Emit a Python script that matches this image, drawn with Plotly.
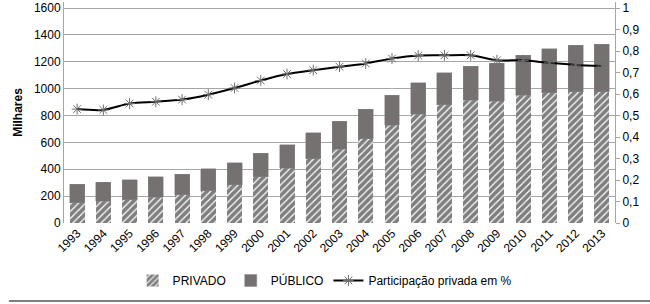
import plotly.graph_objects as go

years = [str(y) for y in range(1993, 2014)]
total = [290, 302, 321, 343, 363, 404, 450, 521, 584, 670, 758, 847, 952, 1044, 1118, 1166, 1190, 1247, 1296, 1324, 1329]
privado = [152, 161, 174, 192, 210, 241, 284, 346, 408, 478, 548, 628, 729, 810, 879, 915, 905, 952, 971, 977, 977]
publico = [t - p for t, p in zip(total, privado)]
participacao = [0.530, 0.526, 0.556, 0.564, 0.574, 0.597, 0.628, 0.663, 0.693, 0.711, 0.727, 0.742, 0.765, 0.779, 0.780, 0.780, 0.757, 0.757, 0.745, 0.735, 0.730]

FONT = "Liberation Sans"
fig = go.Figure()
fig.add_trace(go.Bar(
    x=years, y=privado, name="PRIVADO",
    marker=dict(color="white", line=dict(width=0),
                pattern=dict(shape="/", fgcolor="black", bgcolor="white", size=5, solidity=0.75)),
))
fig.add_trace(go.Bar(
    x=years, y=publico, name="PÚBLICO",
    marker=dict(color="#767171", line=dict(color="#8a8686", width=0.5)),
))
fig.add_trace(go.Scatter(
    x=years, y=participacao, name="Participação privada em %", yaxis="y2",
    mode="lines+markers",
    line=dict(color="black", width=2, shape="spline", smoothing=0.8),
    marker=dict(symbol="asterisk-open", size=9, color="#6e6e6e", line=dict(color="#6e6e6e", width=1)),
))

fig.update_layout(
    width=650, height=304, autosize=False,
    margin=dict(l=64, r=35, t=2, b=81, autoexpand=False),
    separators=", ",
    paper_bgcolor="white", plot_bgcolor="white",
    barmode="stack", bargap=0.43,
    font=dict(family=FONT, size=12, color="black"),
    showlegend=True,
    legend=dict(orientation="h", x=0.473, xanchor="center", y=-0.26, yanchor="middle",
                font=dict(size=12), traceorder="normal"),
    xaxis=dict(type="category", range=[-0.5, 20.5], tickangle=-45, showgrid=False,
               showline=False, ticks="", tickfont=dict(size=12), automargin=False),
    yaxis=dict(range=[0, 1645], tickmode="linear", tick0=0, dtick=200, showgrid=True,
               gridcolor="#a6a6a6", gridwidth=1, showline=True, linecolor="#a6a6a6",
               ticks="", zeroline=False, automargin=False,
               title=dict(text="<b>Milhares</b>", font=dict(size=12), standoff=8)),
    yaxis2=dict(range=[0, 1.0281], overlaying="y", side="right", tickmode="linear",
                tick0=0, dtick=0.1, showgrid=False, showline=True, linecolor="#a6a6a6",
                ticks="outside", ticklen=4, tickcolor="#a6a6a6", zeroline=False,
                automargin=False),
    shapes=[dict(type="line", xref="paper", yref="paper", x0=-0.1, x1=1.07,
                 y0=-0.353, y1=-0.353, line=dict(color="#7f7f7f", width=2))],
)

fig.write_html("out.html", config={"displayModeBar": False, "responsive": False},
               post_script="document.body.style.margin='0';document.body.style.overflow='hidden';")
